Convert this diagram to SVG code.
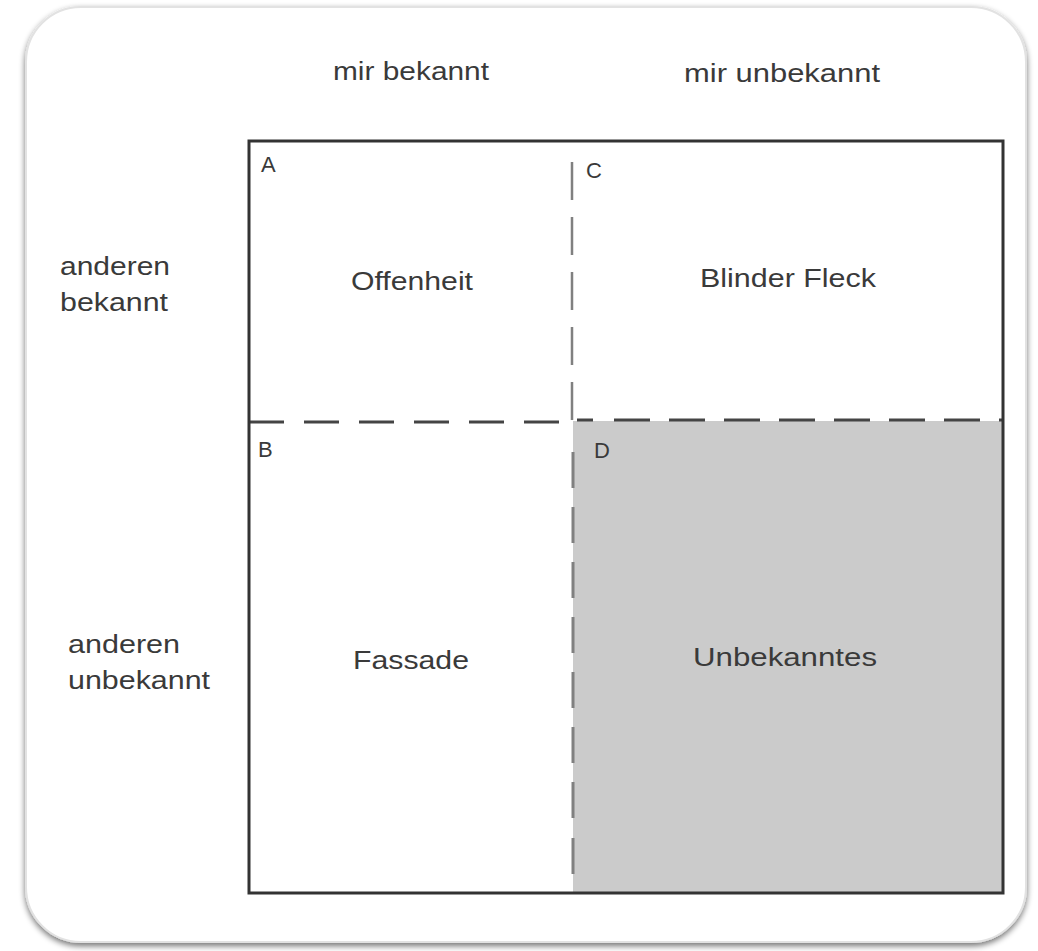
<svg xmlns="http://www.w3.org/2000/svg" width="1038" height="951" viewBox="0 0 1038 951">
  <defs>
    <filter id="sh" x="-5%" y="-5%" width="110%" height="110%">
      <feGaussianBlur in="SourceAlpha" stdDeviation="3"/>
      <feOffset dx="0" dy="3" result="b"/>
      <feComponentTransfer><feFuncA type="linear" slope="0.55"/></feComponentTransfer>
      <feMerge><feMergeNode/><feMergeNode in="SourceGraphic"/></feMerge>
    </filter>
  </defs>
  <style>
    text { font-family: "Liberation Sans", Arial, sans-serif; font-size: 25px; fill: #3a3a3a; }
    .lbl { font-size: 22px; }
    .dashdark { stroke: #444; stroke-width: 3; stroke-dasharray: 35 20; fill: none; }
    .dashgray { stroke: #808080; stroke-width: 3; stroke-dasharray: 37 18; fill: none; }
  </style>
  <rect width="1038" height="951" fill="#ffffff"/>
  <g id="frame">
    <rect x="26" y="7" width="1000" height="935" rx="55" ry="55" fill="#ffffff" stroke="#e2e2e2" stroke-width="2" filter="url(#sh)"/>
  </g>
  <g id="quadrant-D">
    <rect x="573" y="421" width="430" height="472" fill="#cbcbcb"/>
  </g>
  <g id="connectors">
    <path class="dashdark" d="M249 422 H572"/>
    <path class="dashdark" d="M575 420 H1003" stroke-dashoffset="-2" style="stroke-dasharray:16 21 36 19 36 19 36 19 36 19 36 19 36 19 36 19 36 14"/>
    <path class="dashgray" d="M572 143 V420" style="stroke-width:2.5;stroke-dasharray:0 19 38 17 38 17 38 17 38 17 38"/>
    <path class="dashgray" d="M573 424 V893" style="stroke-dasharray:0 28 36 19 36 19 36 19 36 19 36 19 36 19 36 20 36 19"/>
  </g>
  <g id="matrix">
    <rect x="249" y="141" width="754" height="752" fill="none" stroke="#333" stroke-width="3"/>
  </g>
  <g id="col-headers">
    <text x="333" y="80" textLength="156" lengthAdjust="spacingAndGlyphs">mir bekannt</text>
    <text x="684" y="82" textLength="196" lengthAdjust="spacingAndGlyphs">mir unbekannt</text>
  </g>
  <g id="row-headers">
    <text x="60" y="275" textLength="110" lengthAdjust="spacingAndGlyphs">anderen</text>
    <text x="60" y="311" textLength="108" lengthAdjust="spacingAndGlyphs">bekannt</text>
    <text x="68" y="653" textLength="112" lengthAdjust="spacingAndGlyphs">anderen</text>
    <text x="68" y="689" textLength="142" lengthAdjust="spacingAndGlyphs">unbekannt</text>
  </g>
  <g id="node-A">
    <text class="lbl" x="261" y="172">A</text>
    <text x="351" y="290" textLength="122" lengthAdjust="spacingAndGlyphs">Offenheit</text>
  </g>
  <g id="node-C">
    <text class="lbl" x="586" y="178">C</text>
    <text x="700" y="287" textLength="176" lengthAdjust="spacingAndGlyphs">Blinder Fleck</text>
  </g>
  <g id="node-B">
    <text class="lbl" x="258" y="457">B</text>
    <text x="353" y="669" textLength="116" lengthAdjust="spacingAndGlyphs">Fassade</text>
  </g>
  <g id="node-D">
    <text class="lbl" x="594" y="458">D</text>
    <text x="693" y="666" textLength="184" lengthAdjust="spacingAndGlyphs">Unbekanntes</text>
  </g>
</svg>
